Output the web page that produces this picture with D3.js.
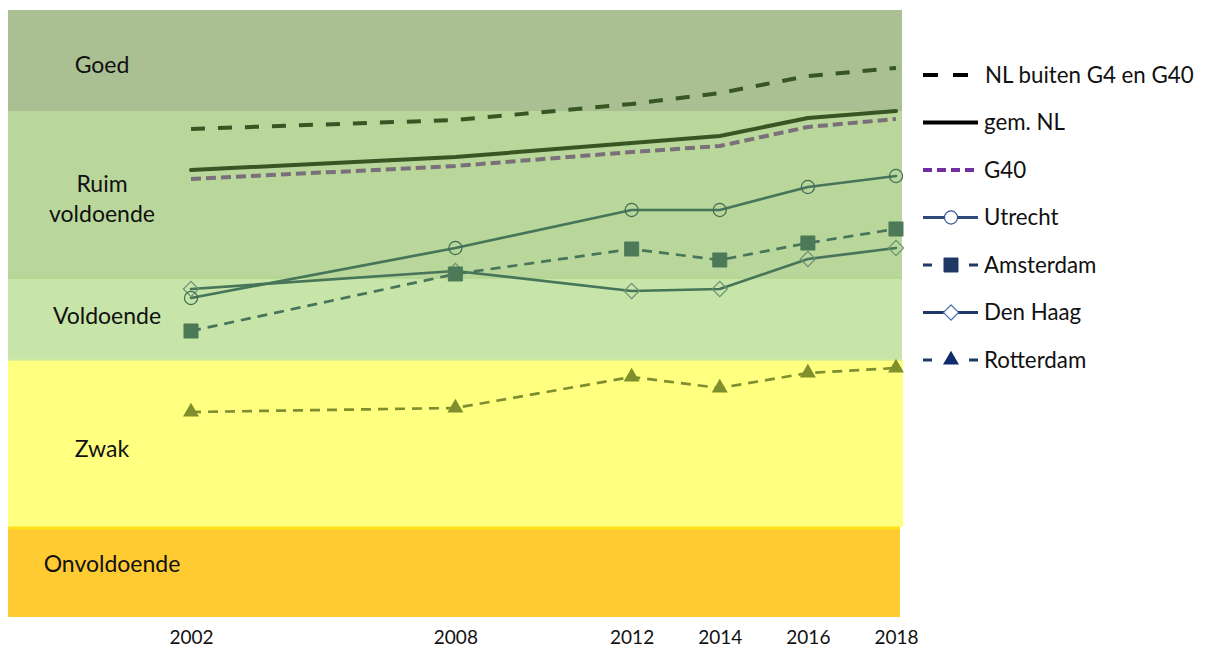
<!DOCTYPE html>
<html lang="nl">
<head>
  <meta charset="UTF-8" />
  <title>Leefbaarheid</title>
  <script src="https://d3js.org/d3.v7.min.js"></script>
  <style>
    html, body { margin: 0; padding: 0; background: #fff; }
    svg { display: block; font-family: Lato, "Open Sans", sans-serif; }
  </style>
</head>
<body>
  <svg id="chart" width="1206" height="650"></svg>

  <script>
    // ---------------------------------------------------------
    // Data (scores)
    // ---------------------------------------------------------
    const years = [2002, 2008, 2012, 2014, 2016, 2018];

    const bandNames = ["Onvoldoende", "Zwak", "Voldoende", "Ruim voldoende", "Goed"];
    const bandLower = [0, 9.0, 25.7, 33.9, 50.6];
    const bandUpper = [9.0, 25.7, 33.9, 50.6, 60.7];

    const seriesNames = ["NL buiten G4 en G40", "gem. NL", "G40", "Utrecht", "Amsterdam", "Den Haag", "Rotterdam"];
    const nlBuiten  = [48.8, 49.7, 51.3, 52.4, 54.1, 54.9];
    const gemNL     = [44.7, 46.0, 47.4, 48.1, 49.9, 50.6];
    const g40       = [43.8, 45.1, 46.5, 47.1, 49.0, 49.8];
    const utrecht   = [31.9, 36.9, 40.7, 40.7, 43.0, 44.1];
    const amsterdam = [28.6, 34.3, 36.8, 35.7, 37.4, 38.8];
    const denHaag   = [32.8, 34.6, 32.6, 32.8, 35.8, 36.9];
    const rotterdam = [20.5, 20.9, 24.0, 22.9, 24.4, 24.9];

    const seriesValues = [nlBuiten, gemNL, g40, utrecht, amsterdam, denHaag, rotterdam];

    // ---------------------------------------------------------
    // Styles
    // ---------------------------------------------------------
    const bandFill = ["#ffcb33", "#ffff80", "#c7e4a9", "#b9d69b", "#aac093"];
    const bandLabelDy = [-8, 5, -3, 4, 4];

    // plot style (tinted by the band overlay) and legend style
    const styles = [
      { color: "#375623", width: 4,   dash: "14,13", legend: "#000",    lw: 4,   ldash: "15,15", marker: null },
      { color: "#375623", width: 4,   dash: null,    legend: "#000",    lw: 4,   ldash: null,    marker: null },
      { color: "#7a6f7a", width: 4,   dash: "10,5",  legend: "#7030a0", lw: 4,   ldash: "9,5",   marker: null },
      { color: "#46755a", width: 2.7, dash: null,    legend: "#2e4a7a", lw: 3,   ldash: null,    marker: "circle" },
      { color: "#46755a", width: 2.7, dash: "10,7",  legend: "#203864", lw: 3,   ldash: "8,14",  marker: "square" },
      { color: "#46755a", width: 2.7, dash: null,    legend: "#203864", lw: 3,   ldash: null,    marker: "diamond" },
      { color: "#7f8f30", width: 2.7, dash: "10,7",  legend: "#1f3864", lw: 3,   ldash: "8,14",  marker: "triangle" }
    ];

    // ---------------------------------------------------------
    // Scales
    // ---------------------------------------------------------
    const svg = d3.select("#chart");
    const plotLeft = 8, plotRight = 902;

    const x = d3.scaleLinear().domain([2002, 2018]).range([191, 896]);
    const y = d3.scaleLinear().domain([0, 60.7]).range([617, 10]);

    // ---------------------------------------------------------
    // Bands
    // ---------------------------------------------------------
    const bands = bandNames.map((name, i) => ({ name, lo: bandLower[i], hi: bandUpper[i], fill: bandFill[i], dy: bandLabelDy[i] }));

    svg.append("g").selectAll("rect")
      .data(bands)
      .join("rect")
      .attr("x", d => plotLeft)
      .attr("width", d => d.name === "Zwak" ? plotRight - plotLeft + 1 : d.name === "Onvoldoende" ? plotRight - plotLeft - 2 : plotRight - plotLeft)
      .attr("y", d => y(d.hi))
      .attr("height", d => y(d.lo) - y(d.hi))
      .attr("fill", d => d.fill);

    // thin separators between bands
    const sep = svg.append("g");
    sep.append("line").attr("x1", plotLeft).attr("x2", plotRight - 2)
      .attr("y1", y(bandUpper[0]) + 1).attr("y2", y(bandUpper[0]) + 1)
      .attr("stroke", "#ffe21c").attr("stroke-width", 3);
    sep.append("line").attr("x1", plotLeft).attr("x2", plotRight)
      .attr("y1", y(bandUpper[1])).attr("y2", y(bandUpper[1]))
      .attr("stroke", "#d2ec98").attr("stroke-width", 1.5);
    sep.append("line").attr("x1", plotLeft).attr("x2", plotRight)
      .attr("y1", y(bandUpper[2])).attr("y2", y(bandUpper[2]))
      .attr("stroke", "#b0d68e").attr("stroke-width", 1.5);

    // band labels
    const labels = svg.append("g")
      .attr("font-size", 23)
      .attr("fill", "#111")
      .attr("text-anchor", "middle");

    bands.forEach(b => {
      const words = b.name === "Ruim voldoende" ? ["Ruim", "voldoende"] : [b.name];
      const cy = (y(b.lo) + y(b.hi)) / 2 + b.dy;
      const cx = b.name === "Onvoldoende" ? 112 : b.name === "Voldoende" ? 107 : 102;
      words.forEach((w, k) => {
        labels.append("text")
          .attr("x", cx)
          .attr("y", cy + (k - (words.length - 1) / 2) * 30)
          .attr("dy", "0.35em")
          .text(w);
      });
    });

    // ---------------------------------------------------------
    // X axis (labels only)
    // ---------------------------------------------------------
    const xAxis = svg.append("g")
      .attr("transform", "translate(0,627)")
      .call(d3.axisBottom(x).tickValues(years).tickFormat(d3.format("d")).tickSize(0).tickPadding(3));
    xAxis.select(".domain").remove();
    xAxis.selectAll("text")
      .attr("font-family", "Lato, 'Open Sans', sans-serif")
      .attr("font-size", 19)
      .attr("fill", "#111");

    // ---------------------------------------------------------
    // Lines & markers
    // ---------------------------------------------------------
    const line = d3.line()
      .x((d, i) => x(years[i]))
      .y(d => y(d));

    const symbolFor = {
      circle: d3.symbol().type(d3.symbolCircle).size(135),
      square: d3.symbol().type(d3.symbolSquare).size(200),
      diamond: d3.symbol().type(d3.symbolSquare).size(115),
      triangle: d3.symbol().type(d3.symbolTriangle).size(110)
    };

    function drawMarker(g, kind, cx, cy, color, legend) {
      const p = g.append("path").attr("d", symbolFor[kind]());
      let tr = `translate(${cx},${cy})`;
      if (kind === "diamond") tr += " rotate(45)";
      p.attr("transform", tr);
      if (kind === "circle") {
        p.attr("fill", legend ? "#fff" : "none").attr("stroke", legend ? "#2f5597" : "#3f6b52").attr("stroke-width", 1.2);
      } else if (kind === "diamond") {
        p.attr("fill", legend ? "#fff" : "none").attr("stroke", legend ? "#4a6fb0" : "#6a9474").attr("stroke-width", 1.2);
      } else if (kind === "square") {
        p.attr("fill", legend ? "#203864" : "#4c7a58").attr("stroke", legend ? "#203864" : "#4a7656").attr("stroke-width", 0.8);
      } else {
        p.attr("fill", legend ? "#0f2b6b" : "#7f8f2c");
      }
    }

    const linesG = svg.append("g").attr("fill", "none");
    // draw from bottom of the stack to the top as in the original
    const drawOrder = [6, 5, 4, 3, 2, 1, 0];
    drawOrder.forEach(i => {
      const s = styles[i];
      linesG.append("path")
        .datum(seriesValues[i])
        .attr("d", line)
        .attr("stroke", s.color)
        .attr("stroke-width", s.width)
        .attr("stroke-dasharray", s.dash)
        .attr("stroke-linecap", s.dash ? "butt" : "round")
        .attr("stroke-linejoin", "round");
    });

    const markersG = svg.append("g");
    drawOrder.forEach(i => {
      const s = styles[i];
      if (!s.marker) return;
      seriesValues[i].forEach((v, j) => drawMarker(markersG, s.marker, x(years[j]), y(v), s.color, false));
    });

    // ---------------------------------------------------------
    // Legend
    // ---------------------------------------------------------
    const legend = svg.append("g").attr("transform", "translate(923,75)");
    seriesNames.forEach((name, i) => {
      const s = styles[i];
      const row = legend.append("g").attr("transform", `translate(0,${i * 47.5})`);
      if (i === 0) {
        row.append("line").attr("x1", 0).attr("x2", 45).attr("y1", 0).attr("y2", 0)
          .attr("stroke", s.legend).attr("stroke-width", s.lw).attr("stroke-dasharray", s.ldash);
      } else if (s.marker === "square" || s.marker === "triangle") {
        row.append("line").attr("x1", 0).attr("x2", 55).attr("y1", 0).attr("y2", 0)
          .attr("stroke", s.legend).attr("stroke-width", s.lw).attr("stroke-dasharray", "9,37,9");
      } else {
        row.append("line").attr("x1", 0).attr("x2", 55).attr("y1", 0).attr("y2", 0)
          .attr("stroke", s.legend).attr("stroke-width", s.lw).attr("stroke-dasharray", s.ldash);
      }
      if (s.marker) drawMarker(row, s.marker, 28, 0, s.legend, true);
      row.append("text")
        .attr("x", i === 0 ? 62 : 61)
        .attr("y", 0)
        .attr("dy", "0.35em")
        .attr("font-size", 22.3)
        .attr("fill", "#111")
        .text(name);
    });
  </script>
</body>
</html>
